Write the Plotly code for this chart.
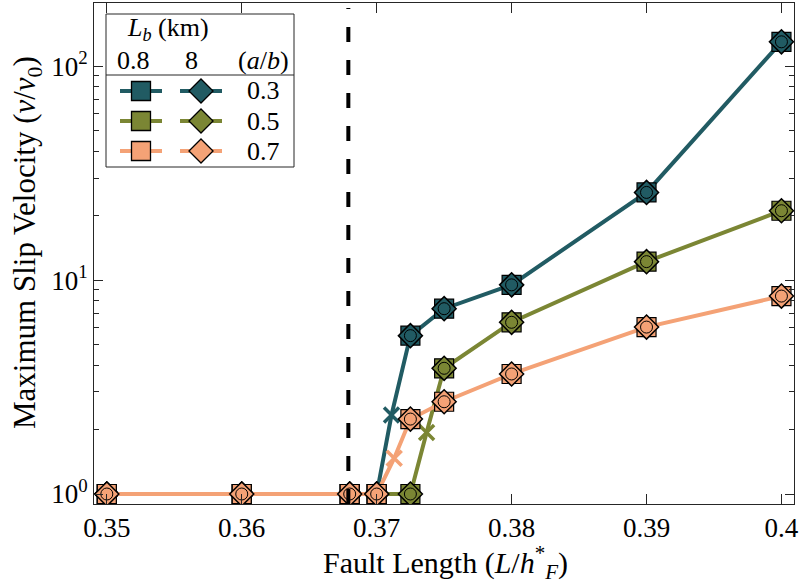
import plotly.graph_objects as go

# ---------------- data ----------------
x_len = [0.35, 0.36, 0.368, 0.37, 0.3725, 0.375, 0.38, 0.39, 0.40]
# L_b = 0.8 km and L_b = 8 km give coinciding values
v_ab03 = [1, 1, 1, 1, 5.5, 7.35, 9.5, 25.7, 130]
v_ab05 = [1, 1, 1, 1, 1, 3.87, 6.35, 12.2, 21.1]
v_ab07 = [1, 1, 1, 1, 2.24, 2.70, 3.64, 6.03, 8.42]
# transition points (x markers)
x_trans = [0.3711, 0.3737, 0.3713]
v_trans = [2.34, 1.94, 1.47]
x_crit = 0.3679
ab_labels = ["0.3", "0.5", "0.7"]
lb_labels = ["0.8", "8"]
x_ticks = [0.35, 0.36, 0.37, 0.38, 0.39, 0.40]
x_ticktext = ["0.35", "0.36", "0.37", "0.38", "0.39", "0.4"]
y_ticks = [1, 10, 100]
y_ticktext = ["10<sup>0</sup>", "10<sup>1</sup>", "10<sup>2</sup>"]

colors = ["#215B63", "#7B8634", "#F4A276"]
series = [v_ab03, v_ab05, v_ab07]

FONT = "'Liberation Serif', 'DejaVu Serif', serif"
FS = 27
FS_LEG = 26
FS_TITLE = 30
SQ, DM = 19, 18.5
fig = go.Figure()

for i, (vals, col) in enumerate(zip(series, colors)):
    pts = sorted(list(zip(x_len, vals)) + [(x_trans[i], v_trans[i])])
    fig.add_trace(go.Scatter(x=[p[0] for p in pts], y=[p[1] for p in pts], mode="lines",
                             line=dict(color=col, width=4), showlegend=False, hoverinfo="skip"))
    fig.add_trace(go.Scatter(x=[x_trans[i]], y=[v_trans[i]], mode="markers",
                             marker=dict(symbol="x-thin", size=15, line=dict(color=col, width=3.5)),
                             showlegend=False))
    fig.add_trace(go.Scatter(x=x_len, y=vals, mode="markers",
                             marker=dict(symbol="square", size=SQ, color=col,
                                         line=dict(color="black", width=1.2)), showlegend=False))
    fig.add_trace(go.Scatter(x=x_len, y=vals, mode="markers",
                             marker=dict(symbol="diamond", size=DM, color=col,
                                         line=dict(color="black", width=1.5)), showlegend=False))
    fig.add_trace(go.Scatter(x=x_len, y=vals, mode="markers",
                             marker=dict(symbol="circle", size=12, color=col,
                                         line=dict(color="black", width=1)), showlegend=False))

# critical length dashed line
fig.add_shape(type="line", xref="x", yref="paper", x0=x_crit, x1=x_crit, y0=0.0, y1=0.99,
              line=dict(color="black", width=4, dash="15px,18px"), layer="above")

# ---------------- custom legend (pixel overlay axes) ----------------
L, R, T, B = 94, 794, 3, 504
W, H = 800, 586


def px(x):
    return (x - L) / (R - L)


def py(y):
    return (B - y) / (B - T)


def label(x, y, text, size, angle=0):
    fig.add_annotation(x=px(x), y=py(y), xref="paper", yref="paper", text=text,
                       showarrow=False, xanchor="center", yanchor="middle", textangle=angle,
                       font=dict(family=FONT, size=size, color="black"))


legend_rows_y = [91, 121, 151]
col_x = [141, 201]
for j, (lab, col) in enumerate(zip(ab_labels, colors)):
    yy = legend_rows_y[j]
    for k, sym in enumerate(["square", "diamond"]):
        cx = col_x[k]
        fig.add_trace(go.Scatter(x=[cx - 21, cx + 21], y=[yy, yy], mode="lines",
                                 line=dict(color=col, width=4), xaxis="x2", yaxis="y2",
                                 showlegend=False, hoverinfo="skip"))
        fig.add_trace(go.Scatter(x=[cx], y=[yy], mode="markers", xaxis="x2", yaxis="y2",
                                 marker=dict(symbol=sym, size=SQ if k == 0 else DM, color=col,
                                             line=dict(color="black", width=1.3)),
                                 showlegend=False, hoverinfo="skip"))
    label(263, yy, lab, FS_LEG)

fig.add_shape(type="rect", xref="paper", yref="paper", x0=px(106), x1=px(294), y0=py(14), y1=py(167),
              line=dict(color="#262626", width=1), fillcolor="white", layer="below")
fig.add_shape(type="line", xref="paper", yref="paper", x0=px(106), x1=px(294), y0=py(75), y1=py(75),
              line=dict(color="#262626", width=1))
label(168, 29, "<i>L</i><sub><i>b</i></sub> (km)", FS_LEG)
label(133, 60, lb_labels[0], FS_LEG)
label(191, 60, lb_labels[1], FS_LEG)
label(263, 60, "(<i>a</i>/<i>b</i>)", FS_LEG)

# axis titles
label(445, 562, "Fault Length (<i>L</i>/<i>h</i><sup>*</sup><sub><i>F</i></sub>)", FS_TITLE)
label(27, 243, "Maximum Slip Velocity (<i>v</i>/<i>v</i><sub>0</sub>)", FS_TITLE + 1, angle=-90)

minor_vals = [2, 3, 4, 5, 6, 7, 8, 9, 20, 30, 40, 50, 60, 70, 80, 90, 200]

fig.update_layout(
    width=W, height=H,
    margin=dict(l=L, r=W - R, t=T, b=H - B),
    paper_bgcolor="white", plot_bgcolor="white",
    font=dict(family=FONT, size=FS, color="black"),
    showlegend=False,
    xaxis=dict(range=[0.34905, 0.40093], tickvals=x_ticks, ticktext=x_ticktext,
               ticks="inside", ticklen=10, tickwidth=1, tickcolor="#262626",
               showline=True, linecolor="#262626", linewidth=1, mirror="ticks",
               showgrid=False, zeroline=False, automargin=False,
               tickfont=dict(family=FONT, size=FS)),
    yaxis=dict(type="log", range=[-0.0467, 2.2954], tickvals=y_ticks, ticktext=y_ticktext,
               ticks="inside", ticklen=9, tickwidth=1, tickcolor="#262626",
               minor=dict(tickvals=minor_vals, ticks="inside", ticklen=5, tickcolor="#262626"),
               showline=True, linecolor="#262626", linewidth=1, mirror="ticks",
               showgrid=False, zeroline=False, automargin=False,
               tickfont=dict(family=FONT, size=FS)),
    xaxis2=dict(range=[L, R], overlaying="x", visible=False, fixedrange=True, automargin=False),
    yaxis2=dict(range=[B, T], overlaying="y", visible=False, fixedrange=True, automargin=False),
)

fig.write_html("out.html", config={"displayModeBar": False},
               post_script="document.body.style.margin='0px';")
